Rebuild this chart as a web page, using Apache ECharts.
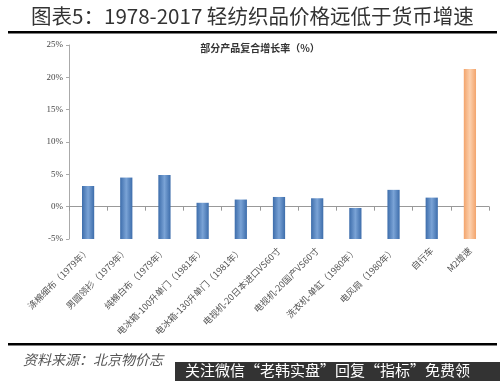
<!DOCTYPE html>
<html><head><meta charset="utf-8">
<script src="https://cdn.jsdelivr.net/npm/echarts@6/dist/echarts.min.js"></script>
<style>html,body{margin:0;padding:0;background:#fff}#c{width:500px;height:381px}</style>
</head><body><div id="c"></div>
<script>
const categories = ['涤棉细布（1979年）','男圆领衫（1979年）','纯棉白布（1979年）','电冰箱-100升单门（1981年）','电冰箱-130升单门（1981年）','电视机-20日本进口VS60寸','电视机-20国产VS60寸','洗衣机-单缸（1980年）','电风扇（1980年）','自行车','M2增速'];
const growthValues = [3.2, 4.5, 4.9, 0.6, 1.1, 1.5, 1.3, -0.2, 2.6, 1.4, 21.3];
const yTicks = [-5, 0, 5, 10, 15, 20, 25];

const chart = echarts.init(document.getElementById('c'));
const blueGrad = new echarts.graphic.LinearGradient(0,0,1,0,[{offset:0,color:'#3d6dab'},{offset:0.5,color:'#7aa3d6'},{offset:1,color:'#3d6dab'}]);
const orangeGrad = new echarts.graphic.LinearGradient(0,0,1,0,[{offset:0,color:'#f3a46c'},{offset:0.5,color:'#fcd0ad'},{offset:1,color:'#f3a46c'}]);
const serif = '"Liberation Serif","Noto Sans CJK SC",serif';
const cjk = '"Noto Sans CJK SC",sans-serif';
const mainTitle = '图表5：1978-2017 轻纺织品价格远低于货币增速';
// fit title to a target width of ~443px
const ctx = document.createElement('canvas').getContext('2d');
ctx.font = '20px ' + cjk;
const tw = ctx.measureText(mainTitle).width;
const titleSize = Math.min(22, 20 * 443 / tw);
chart.setOption({
  animation:false,
  grid:{left:69,right:11,top:45,bottom:142},
  title:[
    {text:'部分产品复合增长率（%）',left:260,textAlign:'center',top:43,padding:0,textStyle:{fontSize:10,fontWeight:'bold',color:'#333',fontFamily:cjk}},
    {text:'资料来源：北京物价志',left:23,top:353,padding:0,textStyle:{fontSize:14,fontStyle:'italic',fontWeight:'normal',color:'#555',fontFamily:cjk}}
  ],
  xAxis:{type:'category',data:categories,boundaryGap:true,
    axisLine:{lineStyle:{color:'#999'}},axisTick:{show:true,length:4,lineStyle:{color:'#999'}},
    axisLabel:{rotate:45,fontSize:9,color:'#555',interval:0,margin:10,fontFamily:cjk}},
  yAxis:{type:'value',min:yTicks[0],max:yTicks[yTicks.length-1],interval:5,
    splitLine:{show:false},
    axisLine:{show:true,lineStyle:{color:'#aaa'}},axisTick:{show:true,length:3,lineStyle:{color:'#aaa'}},
    axisLabel:{formatter:'{value}%',fontSize:9,color:'#444',margin:6,fontFamily:serif}},
  series:[{type:'custom',
    data:growthValues.map((v,i)=>[i,v]),
    renderItem:function(params,api){
      const i=api.value(0), v=api.value(1);
      const top=api.coord([i,v]); const bot=api.coord([i,yTicks[0]]);
      const w=api.size([1,0])[0]*0.32;
      return {type:'rect',shape:{x:top[0]-w/2,y:top[1],width:w,height:bot[1]-top[1]},
        style:{fill: i===growthValues.length-1?orangeGrad:blueGrad}};
    }}],
  graphic:[
    {type:'group',x:0,y:0,children:[
      {type:'text',x:31,y:16,style:{text:mainTitle,fontSize:titleSize,fill:'#333',fontFamily:cjk,align:'left',verticalAlign:'middle'}},
      {type:'rect',shape:{x:8,y:31,width:489,height:2.5},style:{fill:'#000'}},
      {type:'rect',shape:{x:8,y:343,width:489,height:2.5},style:{fill:'#000'}},
      {type:'rect',shape:{x:175,y:362,width:325,height:19},style:{fill:'#333'}},
      {type:'text',x:185,y:363,style:{text:'关注微信“老韩实盘”回复“指标”免费领',fontSize:15,fill:'#fff',fontFamily:cjk}}
    ]}
  ]
});
</script></body></html>
